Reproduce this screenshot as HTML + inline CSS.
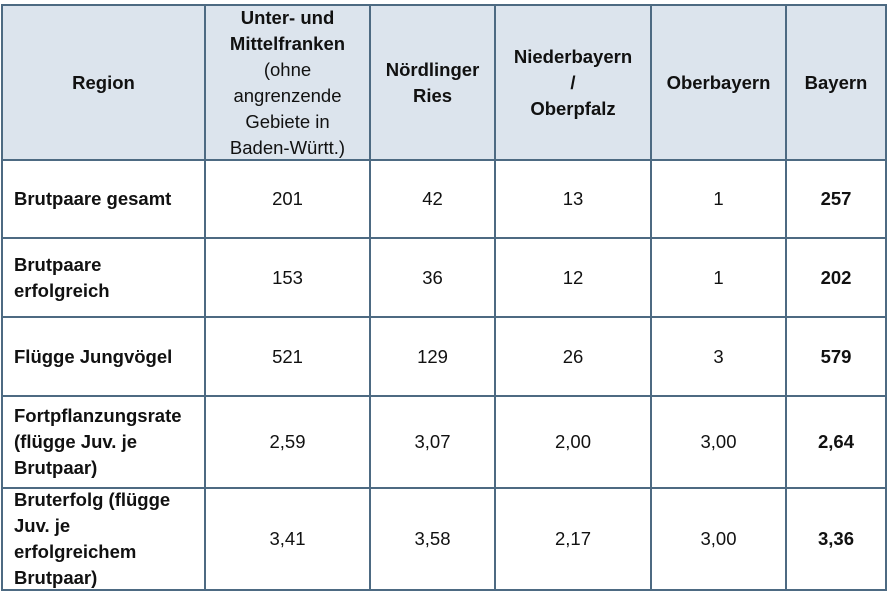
<!DOCTYPE html>
<html><head><meta charset="utf-8"><style>
body{margin:0;width:887px;height:601px;background:#fff;font-family:"Liberation Sans",sans-serif;color:#111;position:relative;overflow:hidden}
.c{position:absolute;box-sizing:border-box;border:2px solid #4d6a82;display:flex;align-items:center;justify-content:center;text-align:center;font-size:18.5px;line-height:26px}
.h{background:#dce4ed;font-weight:bold}
.l{justify-content:flex-start;text-align:left;padding-left:11px;font-weight:bold}
.b{font-weight:bold}
.n{font-weight:normal}
</style></head><body>
<div id="t"></div>
<script>
const xs=[2,205,370,495,651,786,886];
const ys=[5,160,238,317,396,488,590];
const header=['Region','Unter- und<br>Mittelfranken<br><span class="n">(ohne<br>angrenzende<br>Gebiete in<br>Baden-Württ.)</span>','Nördlinger<br>Ries','Niederbayern<br>/<br>Oberpfalz','Oberbayern','Bayern'];
const rows=[
['Brutpaare gesamt','201','42','13','1','257'],
['Brutpaare<br>erfolgreich','153','36','12','1','202'],
['Flügge Jungvögel','521','129','26','3','579'],
['Fortpflanzungsrate<br>(flügge Juv. je<br>Brutpaar)','2,59','3,07','2,00','3,00','2,64'],
['Bruterfolg (flügge<br>Juv. je<br>erfolgreichem<br>Brutpaar)','3,41','3,58','2,17','3,00','3,36']];
const t=document.getElementById('t');
const all=[header,...rows];
all.forEach((r,ri)=>r.forEach((v,ci)=>{
const d=document.createElement('div');
d.className='c'+(ri===0?' h':'')+(ri>0&&ci===0?' l':'')+(ri>0&&ci===5?' b':'');
d.style.left=(xs[ci]-1)+'px';d.style.top=(ys[ri]-1)+'px';
d.style.width=(xs[ci+1]-xs[ci]+2)+'px';d.style.height=(ys[ri+1]-ys[ri]+2)+'px';
d.innerHTML='<span>'+v+'</span>';


t.appendChild(d);
}));
</script>
</body></html>
